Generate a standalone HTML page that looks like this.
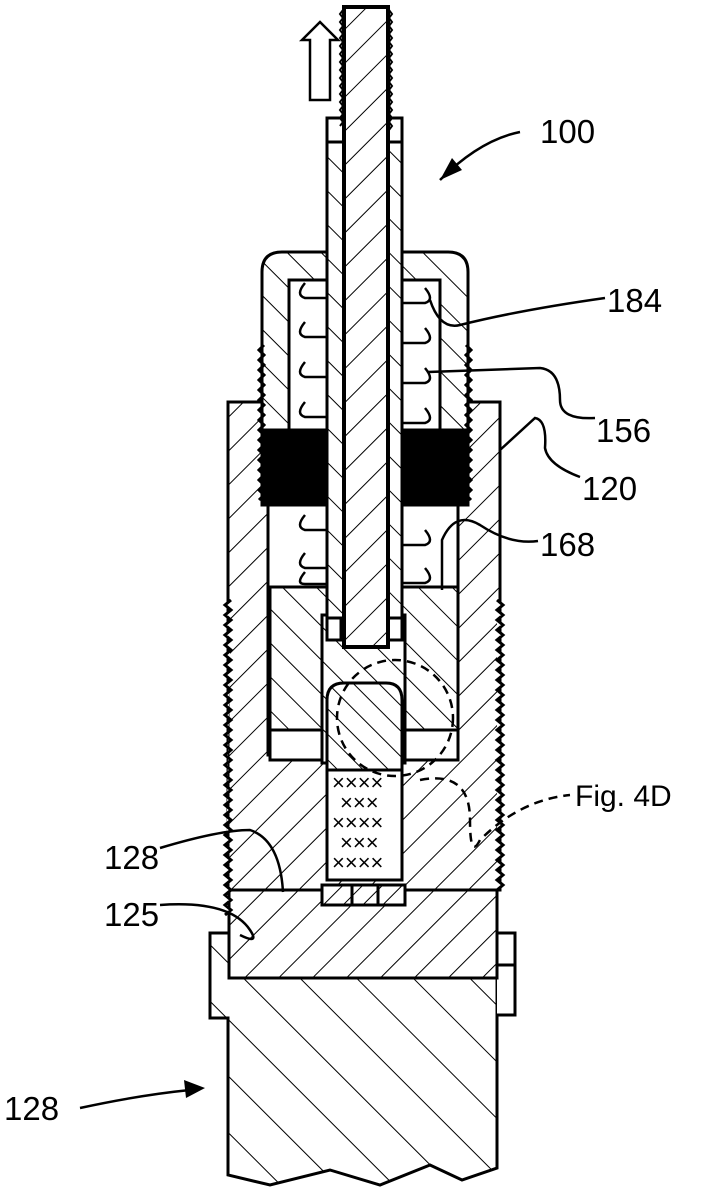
<!DOCTYPE html>
<html><head><meta charset="utf-8"><style>
html,body{margin:0;padding:0;background:#fff;}
svg{display:block;}
text{font-family:"Liberation Sans",sans-serif;font-size:33px;fill:#000;}
</style></head><body>
<svg width="712" height="1200" viewBox="0 0 712 1200" xmlns="http://www.w3.org/2000/svg">
<defs>
<pattern id="hf" width="24" height="24" patternUnits="userSpaceOnUse" patternTransform="rotate(45)">
<rect width="24" height="24" fill="#fff"/><line x1="0" y1="0" x2="0" y2="24" stroke="#000" stroke-width="2"/></pattern>
<pattern id="hb" width="24" height="24" patternUnits="userSpaceOnUse" patternTransform="rotate(-45)">
<rect width="24" height="24" fill="#fff"/><line x1="0" y1="0" x2="0" y2="24" stroke="#000" stroke-width="2"/></pattern>
<pattern id="hbig" width="40" height="40" patternUnits="userSpaceOnUse" patternTransform="rotate(-45)">
<rect width="40" height="40" fill="#fff"/><line x1="0" y1="0" x2="0" y2="40" stroke="#000" stroke-width="2"/></pattern>
<pattern id="hs" width="18" height="18" patternUnits="userSpaceOnUse" patternTransform="rotate(-45)">
<rect width="18" height="18" fill="#fff"/><line x1="0" y1="0" x2="0" y2="18" stroke="#000" stroke-width="2"/></pattern>
<pattern id="hr" width="14" height="14" patternUnits="userSpaceOnUse" patternTransform="rotate(45)">
<rect width="14" height="14" fill="#fff"/><line x1="0" y1="0" x2="0" y2="14" stroke="#000" stroke-width="2"/></pattern>
</defs>
<g stroke="#000" stroke-width="3" fill="none">
<!-- bottom block -->
<path d="M210 933 H497 V1168 L462 1180 L430 1165 L380 1185 L330 1170 L270 1185 L228 1175 V1018 H210 Z" fill="url(#hbig)"/>
<path d="M497 933 H515 V1015 H497" fill="#fff"/>
<line x1="497" y1="965" x2="515" y2="965"/>
<!-- base plate -->
<rect x="229" y="890" width="268" height="88" fill="url(#hf)"/>
<!-- lower housing 120 -->
<path d="M228 402 H268 V755 H458 V402 H500 V890 H228 Z" fill="url(#hf)"/>
<path d="M231 600 l-6 5 l6 5 l-6 5 l6 5 l-6 5 l6 5 l-6 5 l6 5 l-6 5 l6 5 l-6 5 l6 5 l-6 5 l6 5 l-6 5 l6 5 l-6 5 l6 5 l-6 5 l6 5 l-6 5 l6 5 l-6 5 l6 5 l-6 5 l6 5 l-6 5 l6 5 l-6 5 l6 5 l-6 5 l6 5 l-6 5 l6 5 l-6 5 l6 5 l-6 5 l6 5 l-6 5 l6 5 l-6 5 l6 5 l-6 5 l6 5 l-6 5 l6 5 l-6 5 l6 5 l-6 5 l6 5 l-6 5 l6 5 l-6 5 l6 5 l-6 5 l6 5 l-6 5 l6 5 l-6 5 l6 5 l-6 5 l6 5 l-6 5" fill="#fff"/>
<path d="M497 600 l6 5 l-6 5 l6 5 l-6 5 l6 5 l-6 5 l6 5 l-6 5 l6 5 l-6 5 l6 5 l-6 5 l6 5 l-6 5 l6 5 l-6 5 l6 5 l-6 5 l6 5 l-6 5 l6 5 l-6 5 l6 5 l-6 5 l6 5 l-6 5 l6 5 l-6 5 l6 5 l-6 5 l6 5 l-6 5 l6 5 l-6 5 l6 5 l-6 5 l6 5 l-6 5 l6 5 l-6 5 l6 5 l-6 5 l6 5 l-6 5 l6 5 l-6 5 l6 5 l-6 5 l6 5 l-6 5 l6 5 l-6 5 l6 5 l-6 5 l6 5 l-6 5 l6 5 l-6 5" fill="#fff"/>
<!-- piston block -->
<path d="M270 587 H458 V730 H270 Z" fill="url(#hb)"/>
<rect x="270" y="730" width="52" height="30" fill="#fff"/>
<rect x="405" y="730" width="53" height="30" fill="#fff"/>
<!-- pin body -->
<rect x="322" y="615" width="83" height="148" fill="url(#hb)"/>
<path d="M327 770 V700 Q327 683 344 683 H386 Q402 683 402 700 V770 Z" fill="url(#hs)"/>
<rect x="327" y="770" width="75" height="110" fill="#fff"/>
<path d="M322 885 H405 V905 H322 Z" fill="url(#hr)"/>
<line x1="352" y1="885" x2="352" y2="905"/><line x1="378" y1="885" x2="378" y2="905"/>
<!-- cap (upper housing) -->
<path d="M262 272 Q262 252 282 252 H448 Q468 252 468 272 V505 H262 Z" fill="url(#hb)"/>
<rect x="289" y="280" width="151" height="307" fill="#fff"/>
<rect x="265" y="430" width="65" height="75" fill="#000"/>
<rect x="400" y="430" width="65" height="75" fill="#000"/>
<rect x="268" y="505" width="190" height="82" fill="#fff"/>
<line x1="268" y1="505" x2="268" y2="587"/><line x1="458" y1="505" x2="458" y2="587"/>
<path d="M264 345 l-5 5 l5 5 l-5 5 l5 5 l-5 5 l5 5 l-5 5 l5 5 l-5 5 l5 5 l-5 5 l5 5 l-5 5 l5 5 l-5 5 l5 5 l-5 5 l5 5 l-5 5 l5 5 l-5 5 l5 5 l-5 5 l5 5 l-5 5 l5 5 l-5 5 l5 5 l-5 5 l5 5 l-5 5"/>
<path d="M466 345 l5 5 l-5 5 l5 5 l-5 5 l5 5 l-5 5 l5 5 l-5 5 l5 5 l-5 5 l5 5 l-5 5 l5 5 l-5 5 l5 5 l-5 5 l5 5 l-5 5 l5 5 l-5 5 l5 5 l-5 5 l5 5 l-5 5 l5 5 l-5 5 l5 5 l-5 5 l5 5 l-5 5 l5 5"/>
<!-- springs -->
<g stroke-width="2.5">
<path d="M305 283 q-10 12 0 15 l22 0 M305 322 q-10 12 0 15 l22 0 M305 362 q-10 12 0 15 l22 0 M305 402 q-10 12 0 15 l22 0 M305 515 q-10 12 0 15 l22 0 M305 553 q-10 12 0 15 l22 0 M305 572 q-10 12 0 12 l22 0"/>
<path d="M425 288 q10 12 0 15 l-22 0 M425 328 q10 12 0 15 l-22 0 M425 368 q10 12 0 15 l-22 0 M425 408 q10 12 0 15 l-22 0 M425 530 q10 12 0 15 l-22 0 M425 568 q10 12 0 15 l-22 0"/>
</g>
<!-- sleeve -->
<rect x="327" y="142" width="75" height="498" fill="url(#hb)"/>
<rect x="327" y="118" width="75" height="24" fill="#fff"/>
<rect x="327" y="618" width="14" height="22" fill="#fff"/>
<rect x="388" y="618" width="14" height="22" fill="#fff"/>
<!-- rod -->
<rect x="344" y="7" width="44" height="640" fill="url(#hf)" stroke-width="4"/>
<path d="M343 10 l-3 4 l3 4 l-3 4 l3 4 l-3 4 l3 4 l-3 4 l3 4 l-3 4 l3 4 l-3 4 l3 4 l-3 4 l3 4 l-3 4 l3 4 l-3 4 l3 4 l-3 4 l3 4 l-3 4 l3 4 l-3 4 l3 4 l-3 4 l3 4 l-3 4 l3 4 l-3 4" stroke-width="2"/>
<path d="M389 10 l3 4 l-3 4 l3 4 l-3 4 l3 4 l-3 4 l3 4 l-3 4 l3 4 l-3 4 l3 4 l-3 4 l3 4 l-3 4 l3 4 l-3 4 l3 4 l-3 4 l3 4 l-3 4 l3 4 l-3 4 l3 4 l-3 4 l3 4 l-3 4 l3 4 l-3 4 l3 4 l-3 4" stroke-width="2"/>
<path d="M310 100 V40 H302 L320 22 L338 40 H330 V100 Z" stroke-width="2.5"/>
<text x="332" y="790" style="font-size:22px" stroke="none">××××</text>
<text x="340" y="810" style="font-size:22px" stroke="none">×××</text>
<text x="332" y="830" style="font-size:22px" stroke="none">××××</text>
<text x="340" y="850" style="font-size:22px" stroke="none">×××</text>
<text x="332" y="870" style="font-size:22px" stroke="none">××××</text>
<circle cx="395" cy="718" r="58" stroke-dasharray="9,6" stroke-width="2.5"/>
<path d="M420 780 Q470 770 470 820 Q470 860 480 840 Q520 800 570 795" stroke-dasharray="9,6" stroke-width="2.5"/>
<g stroke-width="2.5">
<path d="M440 180 Q480 140 520 132"/>
<path d="M430 300 Q440 330 460 325 Q520 310 605 298"/>
<path d="M428 372 L540 368 Q560 370 560 400 Q560 420 595 418"/>
<path d="M500 450 L535 418 Q547 420 545 448 Q548 465 580 477"/>
<path d="M442 590 V540 Q455 510 480 525 Q510 545 538 541"/>
<path d="M160 848 Q220 830 250 830 Q280 840 283 892"/>
<path d="M160 905 Q230 900 250 930 Q260 945 240 935"/>
<path d="M80 1108 Q140 1095 190 1090"/>
</g>
<path d="M440 180 L452 158 L462 170 Z" fill="#000" stroke="none"/>
<path d="M205 1088 L184 1080 L186 1098 Z" fill="#000" stroke="none"/>
</g>
<text x="540" y="143">100</text>
<text x="607" y="312">184</text>
<text x="596" y="442">156</text>
<text x="582" y="500">120</text>
<text x="540" y="556">168</text>
<text x="575" y="806" style="font-size:30px">Fig. 4D</text>
<text x="104" y="869">128</text>
<text x="104" y="926">125</text>
<text x="4" y="1120">128</text>
</svg>
</body></html>
